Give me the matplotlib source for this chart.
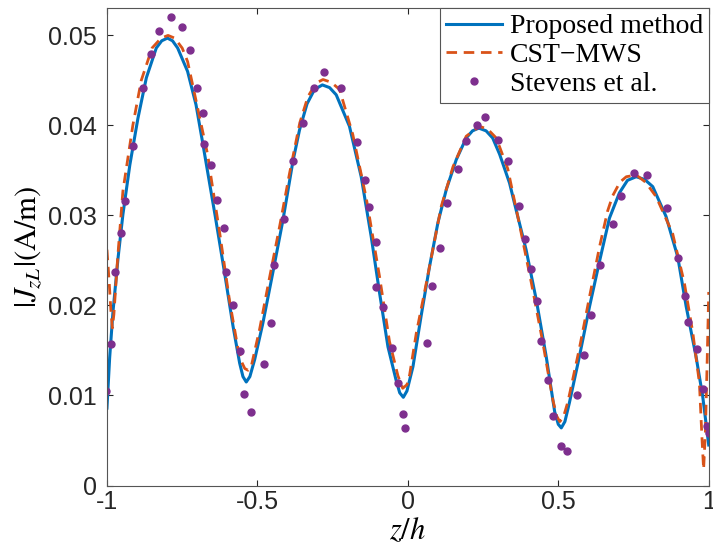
import matplotlib
matplotlib.use('Agg')
import matplotlib.pyplot as plt

plt.rcParams['mathtext.fontset'] = 'stix'

# Proposed method (solid blue)
z_prop = [-1.000, -0.991, -0.980, -0.963, -0.947, -0.924, -0.897, -0.869, -0.836, -0.818,
          -0.799, -0.782, -0.765, -0.732, -0.704, -0.682, -0.659, -0.640, -0.609, -0.581,
          -0.559, -0.548, -0.537, -0.525, -0.509, -0.482, -0.449, -0.415, -0.382, -0.360,
          -0.335, -0.310, -0.284, -0.260, -0.238, -0.194, -0.155, -0.122, -0.094, -0.066,
          -0.039, -0.027, -0.015, -0.003, 0.017, 0.044, 0.072, 0.100, 0.128, 0.161,
          0.194, 0.215, 0.236, 0.260, 0.282, 0.305, 0.338, 0.360, 0.393, 0.427,
          0.460, 0.488, 0.500, 0.510, 0.522, 0.537, 0.570, 0.604, 0.637, 0.670,
          0.703, 0.730, 0.759, 0.787, 0.814, 0.858, 0.897, 0.925, 0.958, 0.980, 1.000]
j_prop = [0.0086, 0.0142, 0.0193, 0.0253, 0.0301, 0.0356, 0.0408, 0.0453, 0.0486, 0.0494,
          0.0497, 0.0494, 0.0486, 0.0460, 0.0423, 0.0381, 0.0336, 0.0299, 0.0236, 0.0177,
          0.0136, 0.0121, 0.0115, 0.0121, 0.0140, 0.0180, 0.0236, 0.0295, 0.0360, 0.0395,
          0.0424, 0.0440, 0.0445, 0.0442, 0.0434, 0.0399, 0.0343, 0.0277, 0.0214, 0.0154,
          0.0117, 0.0103, 0.0098, 0.0105, 0.0132, 0.0188, 0.0243, 0.0292, 0.0329, 0.0362,
          0.0386, 0.0394, 0.0397, 0.0394, 0.0386, 0.0368, 0.0336, 0.0306, 0.0262, 0.0206,
          0.0143, 0.0082, 0.0068, 0.0064, 0.0071, 0.0092, 0.0143, 0.0199, 0.0249, 0.0297,
          0.0325, 0.0339, 0.0343, 0.0340, 0.0332, 0.0299, 0.0254, 0.0199, 0.0143, 0.0099, 0.0045]

# CST-MWS (dashed orange)
z_cst = [-1.000, -0.993, -0.987, -0.982, -0.977, -0.965, -0.947, -0.914, -0.886, -0.850,
         -0.820, -0.797, -0.775, -0.750, -0.732, -0.699, -0.665, -0.653, -0.625, -0.592,
         -0.565, -0.552, -0.542, -0.531, -0.520, -0.493, -0.459, -0.426, -0.393, -0.359,
         -0.332, -0.305, -0.282, -0.255, -0.227, -0.183, -0.138, -0.094, -0.061, -0.033,
         -0.017, -0.003, 0.006, 0.028, 0.055, 0.083, 0.111, 0.150, 0.194, 0.238,
         0.265, 0.294, 0.332, 0.371, 0.410, 0.448, 0.482, 0.495, 0.505, 0.517,
         0.532, 0.570, 0.604, 0.637, 0.664, 0.681, 0.705, 0.726, 0.759, 0.790,
         0.825, 0.880, 0.919, 0.947, 0.969, 0.978, 0.983, 0.989, 0.995, 1.000]
j_cst = [0.0262, 0.0228, 0.0195, 0.0175, 0.0190, 0.0250, 0.0327, 0.0400, 0.0450, 0.0486,
         0.0497, 0.0500, 0.0497, 0.0486, 0.0471, 0.0420, 0.0367, 0.0340, 0.0280, 0.0204,
         0.0153, 0.0137, 0.0130, 0.0128, 0.0133, 0.0173, 0.0232, 0.0288, 0.0347, 0.0403,
         0.0432, 0.0447, 0.0451, 0.0448, 0.0440, 0.0390, 0.0319, 0.0232, 0.0160, 0.0122,
         0.0108, 0.0112, 0.0123, 0.0169, 0.0214, 0.0262, 0.0310, 0.0354, 0.0388, 0.0399,
         0.0396, 0.0386, 0.0352, 0.0290, 0.0226, 0.0160, 0.0095, 0.0077, 0.0071, 0.0076,
         0.0093, 0.0152, 0.0210, 0.0265, 0.0305, 0.0322, 0.0337, 0.0343, 0.0345, 0.0337,
         0.0321, 0.0280, 0.0225, 0.0170, 0.0114, 0.0050, 0.0018, 0.0060, 0.0140, 0.0215]

# Stevens et al. (dots)
z_stev = [-1.002, -0.985, -0.974, -0.954, -0.941, -0.914, -0.880, -0.853, -0.828, -0.788,
          -0.751, -0.723, -0.700, -0.681, -0.678, -0.653, -0.634, -0.612, -0.603, -0.581,
          -0.557, -0.544, -0.520, -0.478, -0.456, -0.446, -0.410, -0.382, -0.349, -0.313,
          -0.277, -0.221, -0.169, -0.142, -0.128, -0.105, -0.105, -0.082, -0.054, -0.032,
          -0.017, -0.008, 0.064, 0.080, 0.108, 0.131, 0.166, 0.193, 0.231, 0.256,
          0.299, 0.332, 0.369, 0.391, 0.408, 0.430, 0.443, 0.465, 0.484, 0.510,
          0.530, 0.563, 0.585, 0.609, 0.640, 0.683, 0.707, 0.753, 0.795, 0.862,
          0.899, 0.922, 0.930, 0.961, 0.980, 0.994, 1.000]
j_stev = [0.0105, 0.0157, 0.0237, 0.0280, 0.0316, 0.0377, 0.0442, 0.0479, 0.0505, 0.0520,
          0.0509, 0.0484, 0.0442, 0.0414, 0.0379, 0.0356, 0.0317, 0.0286, 0.0237, 0.0200,
          0.0149, 0.0102, 0.0082, 0.0135, 0.0180, 0.0245, 0.0296, 0.0361, 0.0403, 0.0442,
          0.0459, 0.0442, 0.0382, 0.0339, 0.0309, 0.0270, 0.0221, 0.0198, 0.0153, 0.0114,
          0.0080, 0.0064, 0.0158, 0.0222, 0.0264, 0.0314, 0.0352, 0.0383, 0.0401, 0.0409,
          0.0384, 0.0360, 0.0310, 0.0274, 0.0240, 0.0205, 0.0160, 0.0117, 0.0077, 0.0044,
          0.0038, 0.0100, 0.0145, 0.0189, 0.0245, 0.0291, 0.0322, 0.0347, 0.0345, 0.0308,
          0.0253, 0.0210, 0.0182, 0.0152, 0.0107, 0.0066, 0.0058]

fig = plt.figure(figsize=(7.13, 5.6), dpi=100)
ax = fig.add_axes([0.150, 0.133, 0.844, 0.852])

ax.plot(z_prop, j_prop, color='#0072BD', lw=2.2, label='Proposed method')
ax.plot(z_cst, j_cst, color='#D95319', lw=2.0, ls='--', dashes=(3.8, 2.4), label='CST\u2212MWS')
ax.plot(z_stev, j_stev, ls='none', marker='o', ms=5, color='#7E2F8E', label='Stevens et al.')

ax.set_xlim(-1, 1)
ax.set_ylim(0, 0.053)
ax.set_xticks([-1, -0.5, 0, 0.5, 1])
ax.set_xticklabels(['-1', '-0.5', '0', '0.5', '1'])
ax.set_yticks([0, 0.01, 0.02, 0.03, 0.04, 0.05])
ax.set_yticklabels(['0', '0.01', '0.02', '0.03', '0.04', '0.05'])
ax.tick_params(direction='in', top=True, right=True, length=4, width=0.8,
               labelsize=18, colors='#262626')
ax.tick_params(axis='y', pad=7)
ax.tick_params(axis='x', pad=3)
for lab in ax.get_xticklabels() + ax.get_yticklabels():
    lab.set_family('Liberation Sans')
for sp in ax.spines.values():
    sp.set_color('#555555')
    sp.set_linewidth(0.8)

ax.set_xlabel(r'$z/h$', fontsize=22, labelpad=2)
ax.set_ylabel(r'$|J_{zL}|(\mathrm{A/m})$', fontsize=22, labelpad=3)

leg = ax.legend(loc='upper right', borderaxespad=0, fancybox=False, framealpha=1,
                edgecolor='#555555', handlelength=2.0, handletextpad=0.3,
                prop={'family': 'Liberation Serif', 'size': 20}, labelspacing=0.12,
                borderpad=0.2)
leg.get_frame().set_linewidth(0.8)

fig.savefig('out.png', dpi=100)
